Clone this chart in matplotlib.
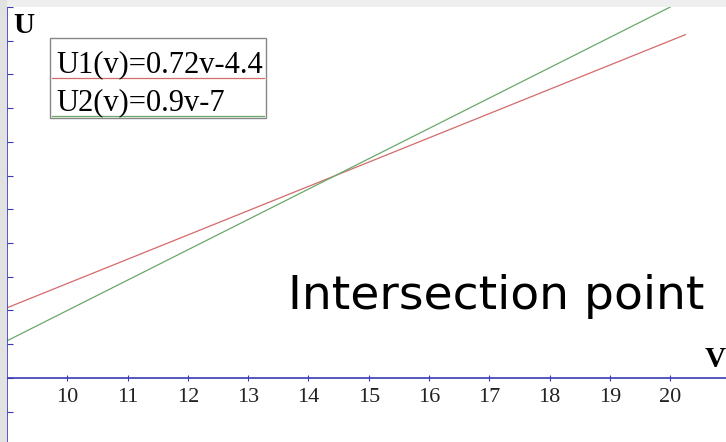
import matplotlib
matplotlib.use("Agg")
from matplotlib import pyplot as plt
from matplotlib.lines import Line2D
from matplotlib.patches import Rectangle

# tick labels along the V axis
v_ticks = [10, 11, 12, 13, 14, 15, 16, 17, 18, 19, 20]
u_ticks = [-1, 0, 1, 2, 3, 4, 5, 6, 7, 8, 9, 10, 11]

# line end points
v1 = [9.0, 20.25]
u1 = [2.08, 10.18]
v2 = [9.0, 20.0]
u2 = [1.1, 11.0]

names = ["U1(v)=0.72v-4.4", "U2(v)=0.9v-7"]
red = "#d46a6a"
green = "#6aa86a"
blue = "#3a3ab8"

W, H = 726, 442
fig = plt.figure(figsize=(W / 100, H / 100), dpi=100)
fig.patch.set_facecolor("white")

# grey strips at top and left (screen capture border)
fig.patches.append(Rectangle((0, 1 - 7 / H), 1, 7 / H, transform=fig.transFigure,
                             facecolor="#efefef", edgecolor="none", zorder=0))
fig.patches.append(Rectangle((0, 0), 7 / W, 1, transform=fig.transFigure,
                             facecolor="#e2e2e2", edgecolor="none", zorder=0))

ax = fig.add_axes([7 / W, 0, 719 / W, (H - 7) / H])
ax.set_xlim(9.0, 9.0 + 719 / 60.3)
ax.set_ylim(-1.9, 11.0)
ax.patch.set_alpha(0)

for s in ["top", "right"]:
    ax.spines[s].set_visible(False)
ax.spines["bottom"].set_position(("data", 0))
ax.spines["bottom"].set_color(blue)
ax.spines["bottom"].set_linewidth(1.2)
ax.spines["left"].set_color(blue)
ax.spines["left"].set_linewidth(1.2)

ax.set_xticks(v_ticks)
ax.set_xticklabels([str(t) for t in v_ticks], family="Liberation Serif", fontsize=16,
                   color="#222222")
ax.tick_params(axis="x", direction="inout", length=5, width=0.8, color=blue, pad=5)
ax.set_yticks(u_ticks)
ax.set_yticklabels([])
ax.tick_params(axis="y", direction="in", length=4, width=0.8, color=blue)

ax.plot(v1, u1, color=red, lw=0.9)
ax.plot(v2, u2, color=green, lw=0.9)

# axis names
fig.text(13 / W, 1 - 33 / H, "U", family="Liberation Serif", weight="bold", fontsize=21)
fig.text(705 / W, 1 - 367 / H, "V", family="Liberation Serif", weight="bold", fontsize=21)

# legend box with a coloured rule under each name
fig.patches.append(Rectangle((50 / W, 1 - 118 / H), 216 / W, 80 / H, transform=fig.transFigure,
                             facecolor="white", edgecolor="#888888", lw=1, zorder=3))
fig.text(56 / W, 1 - 72 / H, names[0], family="Liberation Serif", fontsize=22, zorder=4)
fig.lines.append(Line2D([52 / W, 264 / W], [1 - 78 / H] * 2, transform=fig.transFigure,
                        color=red, lw=0.9, zorder=4))
fig.text(56 / W, 1 - 110 / H, names[1], family="Liberation Serif", fontsize=22, zorder=4)
fig.lines.append(Line2D([52 / W, 264 / W], [1 - 116 / H] * 2, transform=fig.transFigure,
                        color=green, lw=0.9, zorder=4))

fig.text(288 / W, 1 - 309 / H, "Intersection point", family="DejaVu Sans", fontsize=34)

fig.savefig("out.png", dpi=100)
